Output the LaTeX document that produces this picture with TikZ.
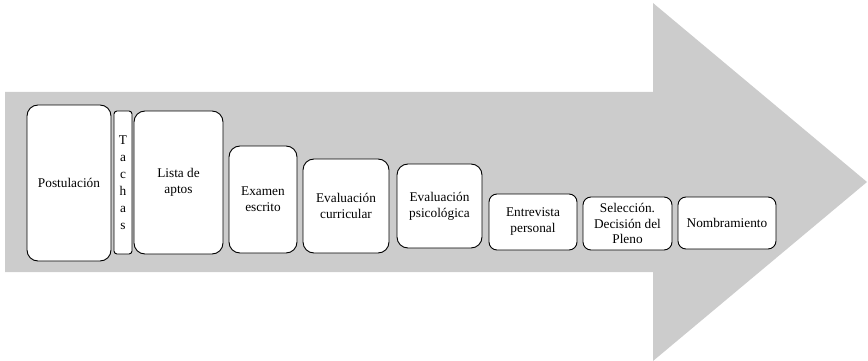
\documentclass[tikz,border=0pt]{standalone}
\usepackage{fontspec}
\setmainfont{Liberation Serif}
\begin{document}
\begin{tikzpicture}[x=1pt,y=-1pt,
  stage/.style={draw=black, line width=0.9pt, fill=white, rounded corners=11pt,
    inner sep=0pt, align=center, font=\fontsize{13.3}{16}\selectfont},
  small/.style={stage, rounded corners=8pt}]
\useasboundingbox (0,0) rectangle (868,361);
\fill[fill={rgb,255:red,204;green,204;blue,204}]
  (5,92) -- (653,92) -- (653,3) -- (867,182) -- (653,361) -- (653,272) -- (5,272) -- cycle;
\node[stage, minimum width=84pt, minimum height=156pt] (post) at (69,183) {Postulación};
\node[small, rounded corners=3pt, minimum width=18pt, minimum height=143pt,
  font=\fontsize{13.3}{17}\selectfont] (tach) at (123,182.5) {T\\a\\c\\h\\a\\s};
\node[stage, minimum width=89pt, minimum height=143pt] (lista) at (178.5,182.5) {Lista de\\aptos};
\node[stage, minimum width=68pt, minimum height=107pt] (exam) at (263,199.5) {Examen\\escrito};
\node[stage, minimum width=86pt, minimum height=94pt] (curr) at (346,206) {Evaluación\\curricular};
\node[stage, minimum width=85pt, minimum height=84pt] (psic) at (439.5,206) {Evaluación\\psicológica};
\node[small, minimum width=88pt, minimum height=56pt] (entr) at (533,222) {Entrevista\\personal};
\node[small, minimum width=89pt, minimum height=53pt, font=\fontsize{13.3}{15.5}\selectfont] (sel) at (627.5,223.5) {Selección.\\Decisión del\\Pleno};
\node[small, minimum width=98pt, minimum height=52pt] (nomb) at (727,223) {Nombramiento};
\end{tikzpicture}
\end{document}
